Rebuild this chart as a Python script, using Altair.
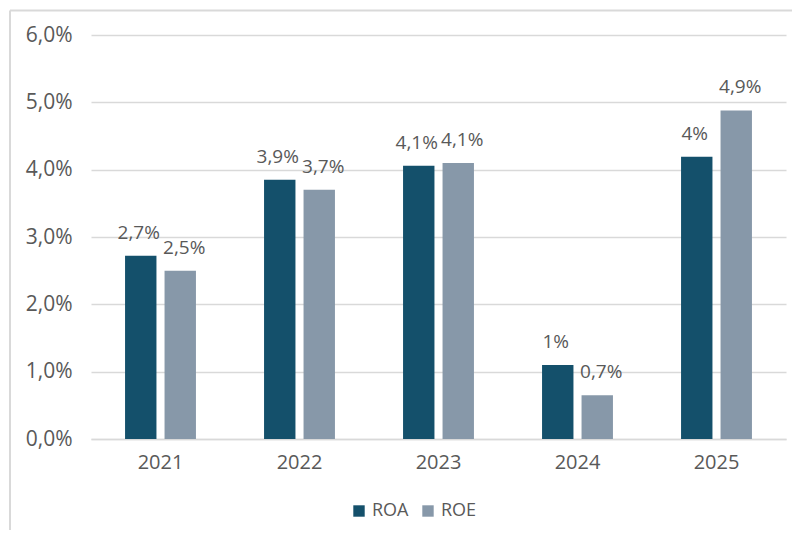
import altair as alt
import pandas as pd

years = ["2021", "2022", "2023", "2024", "2025"]
roa = [2.72, 3.85, 4.06, 1.10, 4.19]
roe = [2.50, 3.70, 4.10, 0.65, 4.88]
roa_labels = ["2,7%", "3,9%", "4,1%", "1%", "4%"]
roe_labels = ["2,5%", "3,7%", "4,1%", "0,7%", "4,9%"]
series = ["ROA", "ROE"]
colors = ["#14506B", "#8798A9"]

rows = []
for i, y in enumerate(years):
    rows.append({"year": y, "series": "ROA", "value": roa[i], "label": roa_labels[i]})
    rows.append({"year": y, "series": "ROE", "value": roe[i], "label": roe_labels[i]})
df = pd.DataFrame(rows)

FONT = "Open Sans"
TXT = "#595959"
GRID = "#D9D9D9"

x_enc = alt.X("year:N", title=None, sort=years,
              scale=alt.Scale(paddingInner=0.49, paddingOuter=0.245),
              axis=alt.Axis(labelAngle=0, labelFontSize=20, labelColor=TXT, labelFont=FONT,
                            labelPadding=13, ticks=False, domainColor=GRID, domainWidth=1.5,
                            grid=False))
xo_enc = alt.XOffset("series:N", sort=series,
                     scale=alt.Scale(paddingInner=0.205, paddingOuter=0))
y_enc = alt.Y("value:Q", title=None,
              scale=alt.Scale(domain=[0, 6], nice=False),
              axis=alt.Axis(values=[0, 1, 2, 3, 4, 5, 6], domain=False, ticks=False,
                            labelExpr="replace(format(datum.value, '.1f'), '.', ',') + '%'",
                            labelFontSize=21, labelColor=TXT, labelFont=FONT, labelPadding=19,
                            gridColor=GRID, gridWidth=1.5))

base = alt.Chart(df)
bars = base.mark_bar(size=31.4).encode(
    x=x_enc, xOffset=xo_enc, y=y_enc,
    color=alt.Color("series:N", sort=series,
                    scale=alt.Scale(domain=series, range=colors),
                    legend=alt.Legend(title=None, orient="none", direction="horizontal",
                                      legendX=259, legendY=467, symbolType="square",
                                      symbolSize=130, symbolStrokeWidth=0,
                                      labelFontSize=18, labelColor=TXT, labelFont=FONT,
                                      labelOffset=4, columnPadding=10)),
)


def label_layer(name, dx):
    return base.transform_filter(alt.datum.series == name).mark_text(
        fontSize=19, color=TXT, font=FONT, baseline="middle", dy=-23, dx=dx
    ).encode(
        x=alt.X("year:N", sort=years), xOffset=alt.XOffset("series:N", sort=series),
        y="value:Q", text="label:N",
    )


labels_roa = label_layer("ROA", -2)
labels_roe = label_layer("ROE", 4)

frame_df = pd.DataFrame({"a": [0]})
left_line = alt.Chart(frame_df).mark_rule(color=GRID, strokeWidth=2).encode(
    x=alt.value(-81), y=alt.value(-24.5), y2=alt.value(495))
top_line = alt.Chart(frame_df).mark_rule(color=GRID, strokeWidth=2).encode(
    x=alt.value(-81), x2=alt.value(701), y=alt.value(-24.5))

chart = alt.layer(bars, labels_roa, labels_roe, left_line, top_line).properties(
    width=695, height=404,
    background="white",
    autosize=alt.AutoSizeParams(type="none"),
    padding={"left": 83, "top": 27, "right": 6, "bottom": 91},
).configure_view(stroke=None)

chart.save("out.html", embed_options={"renderer": "svg", "actions": False})
